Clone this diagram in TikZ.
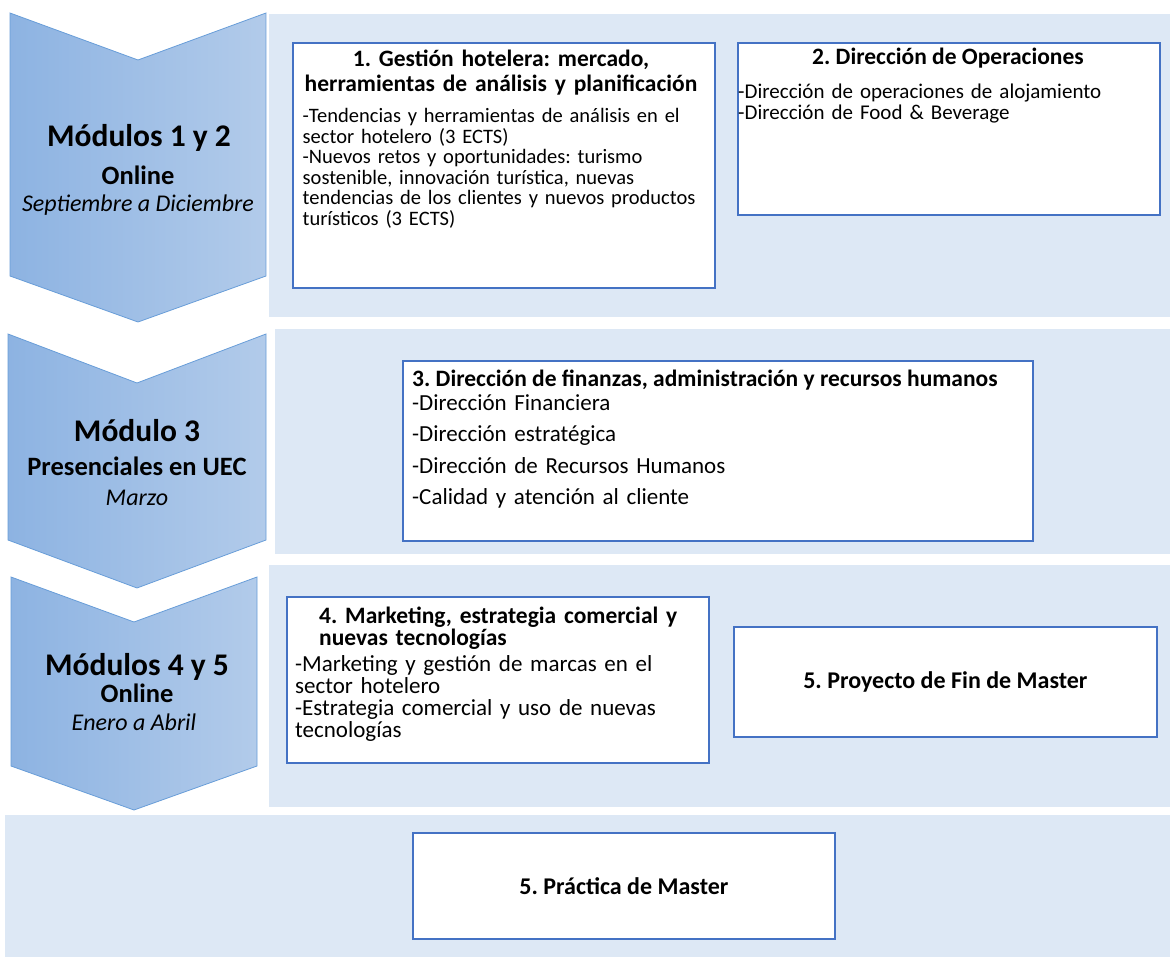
\documentclass[tikz,border=0pt]{standalone}
\usepackage{fontspec}
\setmainfont{Carlito}
\usepackage{tikz}
\usetikzlibrary{positioning}

\definecolor{flechaizq}{RGB}{141,179,226}
\definecolor{flechader}{RGB}{178,203,234}
\definecolor{flechaborde}{RGB}{104,157,216}
\definecolor{panel}{RGB}{221,232,245}
\definecolor{borde}{RGB}{68,114,196}

\newcommand{\letra}[2]{\fontsize{#1}{#2}\selectfont}
\frenchspacing

\begin{document}
\begin{tikzpicture}[x=1pt,y=-1pt,
  fondo/.style={fill=panel},
  flecha/.style={left color=flechaizq,right color=flechader,draw=flechaborde,line width=0.8pt},
  caja/.style={draw=borde,line width=1.8pt,fill=white,anchor=north west,inner sep=0pt},
  modulo/.style={font=\letra{31.5}{33}\bfseries,inner sep=0pt,anchor=base},
  modo/.style={font=\letra{26.5}{28}\bfseries,inner sep=0pt,anchor=base},
  fecha/.style={font=\letra{24}{26}\itshape,inner sep=0pt,anchor=base},
  titulo/.style={font=\letra{23.5}{25}\bfseries,inner sep=0pt},
  cuerpo/.style={font=\letra{20.5}{20.5},inner sep=0pt,anchor=base west,align=left,text width=#1},
  cuerpo/.default=420pt,
  ]
\useasboundingbox (0,0) rectangle (1170,957);

% fondos
\fill[fondo] (269,14) rectangle (1170,317);
\fill[fondo] (275,329) rectangle (1170,554);
\fill[fondo] (269,565) rectangle (1170,807);
\fill[fondo] (5,815) rectangle (1170,957);

% flechas
\foreach \l/\r/\a/\m/\b/\p in {10/266/13/60/276/322, 8/266/334/383/540/588, 11/257/577/622/766/810}
	\shadedraw[flecha] (\l,\a) -- ({(\l+\r)/2},\m) -- (\r,\a) -- (\r,\b) -- ({(\l+\r)/2},\p) -- (\l,\b) -- cycle;

\node[modulo] (mod12) at (139,147) {Módulos 1 y 2};
\node[modo] (modo12) at (138,185) {Online};
\node[fecha] (fecha12) at (138,212) {Septiembre a Diciembre};

\node[modulo] (mod3) at (137,442) {Módulo 3};
\node[modo] (modo3) at (137,475) {Presenciales en UEC};
\node[fecha] (fecha3) at (137,505) {Marzo};

\node[modulo] (mod45) at (137,675) {Módulos 4 y 5};
\node[modo] (modo45) at (137,702) {Online};
\node[fecha] (fecha45) at (134,730) {Enero a Abril};

% cajas
\node[caja,minimum width=422pt,minimum height=245pt] (gestion) at (292,42) {};
\node[titulo,anchor=base,align=center,text width=420pt] (gestiont) at (501,66.7) {1. Gestión hotelera: mercado,\\herramientas de análisis y planificación};
\node[cuerpo=405pt] (gestionc) at (302.5,122.7) {-Tendencias y herramientas de análisis en el\\sector hotelero (3 ECTS)\\-Nuevos retos y oportunidades: turismo\\sostenible, innovación turística, nuevas\\tendencias de los clientes y nuevos productos\\turísticos (3 ECTS)};

\node[caja,minimum width=422pt,minimum height=172pt] (operaciones) at (737,42) {};
\node[titulo,anchor=base] (operacionest) at (948,65) {2. Dirección de Operaciones};
\node[cuerpo=415pt,font=\letra{21}{21}] (operacionesc) at (738,98.3) {-Dirección de operaciones de alojamiento\\-Dirección de Food \& Beverage};

\node[caja,minimum width=630pt,minimum height=180pt] (finanzas) at (402,360) {};
\node[titulo,anchor=base west] (finanzast) at (412,387) {3. Dirección de finanzas, administración y recursos humanos};
\node[cuerpo=600pt,font=\letra{23}{31.5}] (finanzasc) at (412,410) {-Dirección Financiera\\-Dirección estratégica\\-Dirección de Recursos Humanos\\-Calidad y atención al cliente};

\node[caja,minimum width=422pt,minimum height=166pt] (marketing) at (286,596) {};
\node[titulo,font=\letra{23.5}{22}\bfseries,anchor=base west,align=left,text width=385pt] (marketingt) at (319,623) {4. Marketing, estrategia comercial y\\nuevas tecnologías};
\node[cuerpo=405pt,font=\letra{23}{22}] (marketingc) at (295,671) {-Marketing y gestión de marcas en el\\sector hotelero\\-Estrategia comercial y uso de nuevas\\tecnologías};

\node[caja,minimum width=423pt,minimum height=110pt,titulo,font=\letra{24}{25}\bfseries] (proyecto) at (733,626) {5. Proyecto de Fin de Master};
\node[caja,minimum width=422pt,minimum height=106pt,titulo,font=\letra{24}{25}\bfseries] (practica) at (412,832) {5. Práctica de Master};
\end{tikzpicture}
\end{document}
